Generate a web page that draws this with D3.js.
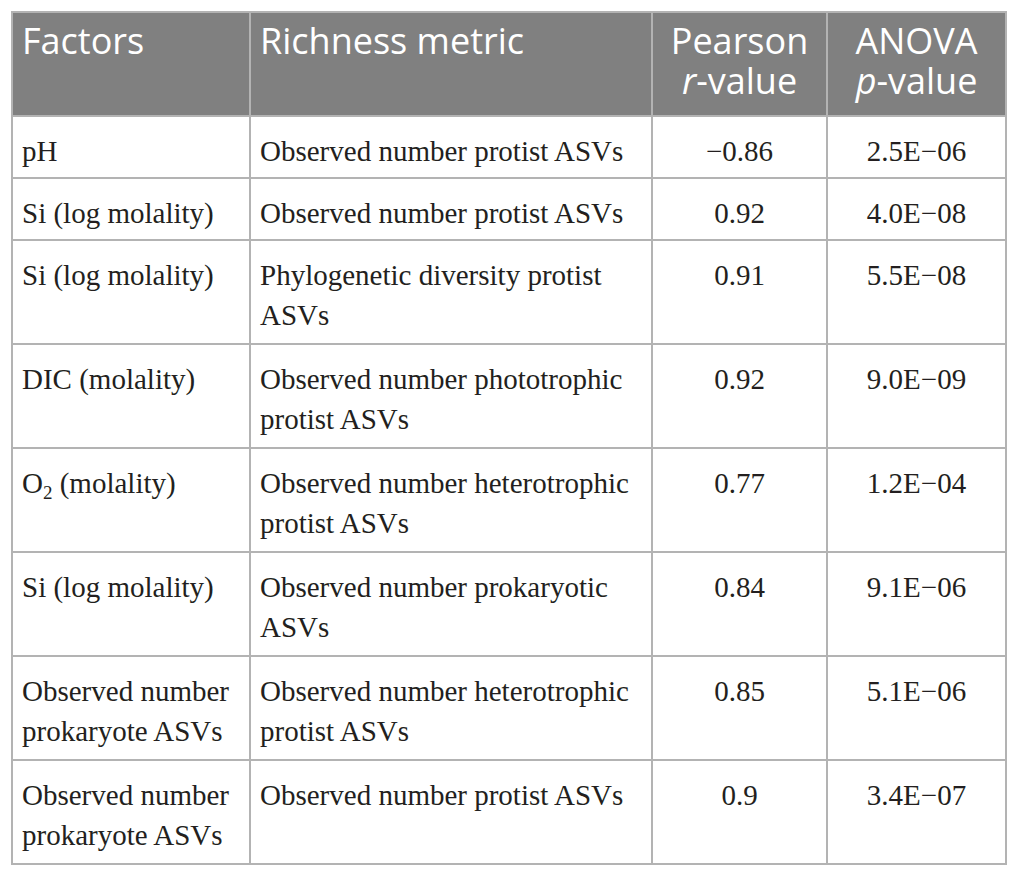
<!DOCTYPE html>
<html>
<head>
<meta charset="utf-8">
<script src="https://cdn.jsdelivr.net/npm/d3@7"></script>
<style>
  html, body { margin: 0; padding: 0; background: #fff; }
  svg { display: block; }
</style>
</head>
<body>
<svg id="chart" width="1022" height="875"></svg>
<script>
// ---- data ----
const headers = [
  [["Factors"]],
  [["Richness metric"]],
  [["Pearson"], [{t: "r", i: true}, "-value"]],
  [["ANOVA"], [{t: "p", i: true}, "-value"]]
];
const factors = [
  [["pH"]],
  [["Si (log molality)"]],
  [["Si (log molality)"]],
  [["DIC (molality)"]],
  [["O", {t: "2", sub: true}, " (molality)"]],
  [["Si (log molality)"]],
  [["Observed number"], ["prokaryote ASVs"]],
  [["Observed number"], ["prokaryote ASVs"]]
];
const metrics = [
  [["Observed number protist ASVs"]],
  [["Observed number protist ASVs"]],
  [["Phylogenetic diversity protist"], ["ASVs"]],
  [["Observed number phototrophic"], ["protist ASVs"]],
  [["Observed number heterotrophic"], ["protist ASVs"]],
  [["Observed number prokaryotic"], ["ASVs"]],
  [["Observed number heterotrophic"], ["protist ASVs"]],
  [["Observed number protist ASVs"]]
];
const rValues = ["\u22120.86", "0.92", "0.91", "0.92", "0.77", "0.84", "0.85", "0.9"];
const pValues = ["2.5E\u221206", "4.0E\u221208", "5.5E\u221208", "9.0E\u221209", "1.2E\u221204", "9.1E\u221206", "5.1E\u221206", "3.4E\u221207"];

// ---- layout ----
const colEdges = [12, 250, 652, 827, 1006];
const align = ["start", "start", "middle", "middle"];
const tableTop = 12;
const rowH = lines => 20 + 42 * Math.max(lines, 1);

const svg = d3.select("#chart");

const rows = [{head: true, cells: headers}].concat(
  factors.map((f, i) => ({head: false, cells: [f, metrics[i], [[rValues[i]]], [[pValues[i]]]]}))
);
rows.forEach(r => { r.lines = d3.max(r.cells, c => c.length); });
let acc = tableTop;
rows.forEach(r => { r.y0 = acc; r.h = rowH(r.lines); acc += r.h; });
const tableBottom = acc;

const xCol = d3.scaleOrdinal().domain(d3.range(4)).range(colEdges.slice(0, 4));
const wCol = d3.scaleOrdinal().domain(d3.range(4)).range(d3.range(4).map(i => colEdges[i + 1] - colEdges[i]));
const yRow = d3.scaleOrdinal().domain(d3.range(rows.length)).range(rows.map(r => r.y0));

// header background
svg.append("rect")
  .attr("x", colEdges[0]).attr("y", rows[0].y0)
  .attr("width", colEdges[4] - colEdges[0]).attr("height", rows[0].h)
  .attr("fill", "#808080");

// text
const g = svg.append("g");
rows.forEach((r, ri) => {
  r.cells.forEach((cell, ci) => {
    const x = align[ci] === "middle" ? xCol(ci) + wCol(ci) / 2 : xCol(ci) + 10;
    const t = g.append("text")
      .attr("text-anchor", align[ci])
      .attr("font-family", r.head ? "'Open Sans', Lato, sans-serif" : "'Liberation Serif', 'DejaVu Serif', serif")
      .attr("font-size", r.head ? 36 : 29)
      .attr("fill", r.head ? "#ffffff" : "#231f20");
    cell.forEach((line, li) => {
      const base = yRow(ri) + (r.head ? 42 : 45) + li * 40;
      line.forEach((seg, si) => {
        const s = typeof seg === "string" ? {t: seg} : seg;
        const ts = t.append("tspan").text(s.t);
        if (si === 0) ts.attr("x", x).attr("y", base);
        if (s.i) ts.attr("font-style", "italic");
        if (s.sub) ts.attr("font-size", 19).attr("dy", 6);
        else if (si > 0 && typeof line[si - 1] !== "string" && line[si - 1].sub) ts.attr("dy", -6);
      });
    });
  });
});

// grid lines
const gridColor = "#b3b3b3";
const grid = svg.append("g").attr("stroke", gridColor).attr("stroke-width", 2);
colEdges.forEach(x => grid.append("line").attr("x1", x).attr("x2", x).attr("y1", tableTop).attr("y2", tableBottom));
rows.map(r => r.y0).concat([tableBottom]).forEach(y =>
  grid.append("line").attr("x1", colEdges[0] - 1).attr("x2", colEdges[4] + 1).attr("y1", y).attr("y2", y));
</script>
</body>
</html>
